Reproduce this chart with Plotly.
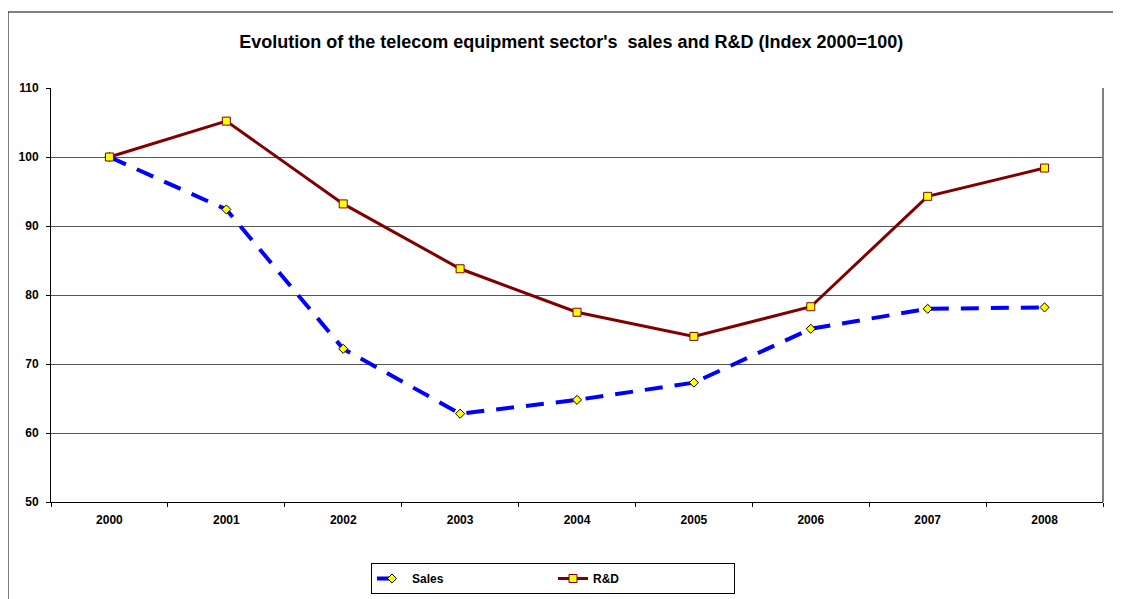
import plotly.graph_objects as go

years = ['2000', '2001', '2002', '2003', '2004', '2005', '2006', '2007', '2008']
sales = [100, 92.4, 72.2, 62.8, 64.8, 67.3, 75.1, 78.0, 78.2]
rnd = [100, 105.2, 93.2, 83.8, 77.5, 74.0, 78.3, 94.3, 98.4]
y_ticks = [50, 60, 70, 80, 90, 100, 110]

bold12 = dict(size=12, weight='bold', family='Liberation Sans, Arial', color='black')

fig = go.Figure()
fig.add_trace(go.Scatter(x=years, y=sales, name='Sales', mode='lines+markers',
                         line=dict(color='#0000FF', width=4, dash='18px,12px'),
                         marker=dict(symbol='diamond', size=7, color='#FFFF00',
                                     line=dict(color='black', width=1))))
fig.add_trace(go.Scatter(x=years, y=rnd, name='R&D', mode='lines+markers',
                         line=dict(color='#800000', width=3),
                         marker=dict(symbol='square', size=8, color='#FFFF00',
                                     line=dict(color='#800000', width=1))))

# page body has an 8px margin, so the figure is sized to sit in the window
fig.update_layout(
    width=1113, height=591,
    margin=dict(l=43, r=18, t=80, b=97),
    paper_bgcolor='white', plot_bgcolor='white',
    font=dict(family='Liberation Sans, Arial', size=12, color='black'),
    title=dict(text="Evolution of the telecom equipment sector's  sales and R&D (Index 2000=100)",
               x=0.506, xanchor='center', y=0.9425, yanchor='middle',
               font=dict(size=18, weight='bold')),
    showlegend=True,
    legend=dict(orientation='h', xref='container', x=(553 - 8) / 1113, xanchor='center',
                yref='container', y=(591 - 555) / 591, yanchor='top',
                bordercolor='black', borderwidth=1, entrywidth=136,
                font=bold12),
    xaxis=dict(type='category', range=[-0.5, 8.5], showgrid=False,
               showline=True, linecolor='black', linewidth=1,
               ticks='outside', ticklen=4, tickcolor='black',
               tickson='boundaries', tickfont=bold12, ticklabelstandoff=7,
               automargin=False),
    yaxis=dict(range=[50, 110], tickvals=y_ticks, showgrid=True,
               gridcolor='#555555', gridwidth=1,
               showline=True, linecolor='black', linewidth=1,
               ticks='outside', ticklen=4, tickcolor='black',
               tickfont=bold12, ticklabelstandoff=5, zeroline=False,
               automargin=False),
)

# outer chart frame and right edge of plot
fig.add_shape(type='rect', xref='paper', yref='paper',
              x0=-43 / 1052, x1=1.04, y0=-0.3, y1=1 + 76 / 414,
              line=dict(color='black', width=1))
fig.add_shape(type='line', xref='paper', yref='paper', x0=1, x1=1, y0=0, y1=1,
              line=dict(color='#808080', width=2))

fig.write_html('out.html')
